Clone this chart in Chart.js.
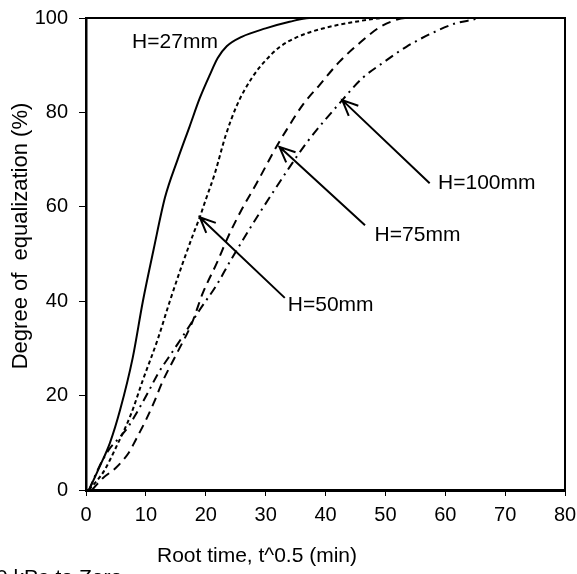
<!DOCTYPE html>
<html>
<head>
<meta charset="utf-8">
<script src="https://cdn.jsdelivr.net/npm/chart.js@4/dist/chart.umd.min.js"></script>
<style>
  html, body { margin: 0; padding: 0; background: #fff; }
  #wrap { width: 577px; height: 574px; }
</style>
</head>
<body>
<div id="wrap"><canvas id="chart"></canvas></div>
<script>
// valeurs (t^0.5 en min, degré en %)
const h27x = [0.5, 2.3, 4, 5.7, 7.8, 9.5, 11.3, 13.2, 15.3, 17.3, 19, 20.7, 22, 23.5, 26, 30, 34, 37.3, 80];
const h27y = [0, 5, 10, 17, 28, 40, 51, 62, 70, 77, 83, 88, 91.5, 94, 96, 97.8, 99.2, 100, 100];

const h50x = [0.5, 3, 5, 7.5, 9.5, 12, 14, 16, 18, 19, 20, 21.5, 23.3, 25.2, 27.8, 30, 32.3, 35, 39, 45, 50, 80];
const h50y = [0, 4, 9, 16, 23.3, 32, 40, 47.5, 54.5, 57.8, 61.5, 67, 75, 81.5, 87.5, 91, 93.8, 95.8, 97.6, 99.2, 100, 100];

const h75x = [1, 2.8, 5, 7.2, 8.3, 10, 11.3, 12.8, 15.2, 17.7, 19.5, 22, 23.5, 25.7, 28.5, 31.8, 33.5, 36.2, 39, 42.3, 45.7, 49, 51.8, 53.5, 80];
const h75y = [0, 2.5, 4.7, 8, 10.6, 14.8, 18.4, 23, 29, 35.4, 41.7, 48.5, 53, 58.7, 65, 72.7, 76.3, 81.6, 85.8, 90.7, 94.7, 98, 99.6, 100, 100];

const h100x = [0.5, 2.2, 3.8, 5.5, 7, 8.3, 9.2, 10.5, 12, 14.5, 16.8, 19, 21.8, 24, 26.5, 29, 31.5, 34, 36.8, 42.8, 46.2, 49.8, 53.5, 57.8, 61.8, 64.5, 66, 80];
const h100y = [0, 4.9, 8.5, 11, 13.3, 16, 18, 21, 24.6, 29.4, 33.8, 38.2, 43.4, 48.3, 53.6, 58.7, 63.6, 68.4, 73.5, 82.6, 87.3, 90.7, 93.9, 96.8, 98.9, 99.6, 100, 100];

const xTicks = [0, 10, 20, 30, 40, 50, 60, 70, 80];
const yTicks = [0, 20, 40, 60, 80, 100];

// étiquettes : texte, position du texte, queue et pointe de la flèche (unités des axes)
const labels = [
  { text: "H=27mm", at: [7.7, 94.9], tail: null, tip: null },
  { text: "H=50mm", at: [33.7, 39.2], tail: [33.2, 40.7], tip: [19, 57.8] },
  { text: "H=75mm", at: [48.2, 54.0], tail: [46.6, 56.1], tip: [32.3, 72.7] },
  { text: "H=100mm", at: [58.8, 65.0], tail: [57.4, 65.0], tip: [42.8, 82.6] }
];

const FONT = "'Liberation Sans', Arial, sans-serif";

function pts(xs, ys) {
  return xs.map((x, i) => ({ x: x, y: ys[i] }));
}

function serie(xs, ys, dash) {
  return {
    data: pts(xs, ys),
    borderColor: "#000",
    borderWidth: 2,
    borderDash: dash,
    pointRadius: 0,
    fill: false,
    showLine: true,
    cubicInterpolationMode: "monotone"
  };
}

// pas de marge automatique pour les étiquettes qui dépassent
function noPad(s) {
  s.paddingLeft = 0;
  s.paddingRight = 0;
  s.paddingTop = 0;
  s.paddingBottom = 0;
}

// cadre, titres, flèches
const decor = {
  id: "decor",
  afterDraw(chart) {
    const ctx = chart.ctx;
    const a = chart.chartArea;
    const sx = chart.scales.x, sy = chart.scales.y;
    ctx.save();
    ctx.strokeStyle = "#000";
    ctx.lineWidth = 2;
    ctx.beginPath();
    ctx.moveTo(a.left, a.top);
    ctx.lineTo(a.right, a.top);
    ctx.lineTo(a.right, a.bottom);
    ctx.stroke();

    ctx.fillStyle = "#000";
    ctx.font = "21px " + FONT;
    ctx.textBaseline = "middle";
    ctx.textAlign = "left";
    labels.forEach(l => {
      ctx.fillText(l.text, sx.getPixelForValue(l.at[0]), sy.getPixelForValue(l.at[1]));
      if (!l.tail) return;
      const x1 = sx.getPixelForValue(l.tail[0]), y1 = sy.getPixelForValue(l.tail[1]);
      const x2 = sx.getPixelForValue(l.tip[0]), y2 = sy.getPixelForValue(l.tip[1]);
      const ang = Math.atan2(y2 - y1, x2 - x1);
      const len = 17, spread = 0.42;
      ctx.lineWidth = 2;
      ctx.beginPath();
      ctx.moveTo(x1, y1);
      ctx.lineTo(x2, y2);
      ctx.moveTo(x2 - len * Math.cos(ang - spread), y2 - len * Math.sin(ang - spread));
      ctx.lineTo(x2, y2);
      ctx.lineTo(x2 - len * Math.cos(ang + spread), y2 - len * Math.sin(ang + spread));
      ctx.stroke();
    });

    ctx.textAlign = "center";
    ctx.fillText("Root time, t^0.5 (min)", 257, 556);
    ctx.textAlign = "left";
    ctx.textBaseline = "alphabetic";
    ctx.fillText("0 kPa to Zero", -4, 584);

    ctx.translate(21, 236);
    ctx.rotate(-Math.PI / 2);
    ctx.textAlign = "center";
    ctx.textBaseline = "middle";
    ctx.font = "22px " + FONT;
    ctx.fillText("Degree of  equalization (%)", 0, 0);
    ctx.restore();
  }
};

new Chart(document.getElementById("chart"), {
  type: "scatter",
  data: {
    datasets: [
      serie(h27x, h27y, []),
      serie(h50x, h50y, [4, 3]),
      serie(h75x, h75y, [9, 6]),
      serie(h100x, h100y, [9, 5, 2, 5])
    ]
  },
  options: {
    responsive: true,
    maintainAspectRatio: false,
    animation: false,
    layout: { autoPadding: false, padding: { top: 18, right: 12, left: 0, bottom: 0 } },
    plugins: {
      legend: { display: false },
      tooltip: { enabled: false }
    },
    scales: {
      x: {
        type: "linear",
        min: 0,
        max: 80,
        afterFit: s => { s.height = 84; noPad(s); },
        afterBuildTicks: s => { s.ticks = xTicks.map(v => ({ value: v })); },
        grid: { drawOnChartArea: false, drawTicks: true, tickLength: 6, color: "#000" },
        border: { display: true, color: "#000", width: 3 },
        ticks: { color: "#000", padding: 7, maxRotation: 0, font: { size: 20, family: FONT } }
      },
      y: {
        min: 0,
        max: 100,
        afterFit: s => { s.width = 86; noPad(s); },
        afterBuildTicks: s => { s.ticks = yTicks.map(v => ({ value: v })); },
        grid: { drawOnChartArea: false, drawTicks: true, tickLength: 7, color: "#000" },
        border: { display: true, color: "#000", width: 2.5 },
        ticks: { color: "#000", padding: 11, font: { size: 20, family: FONT } }
      }
    }
  },
  plugins: [decor]
});
</script>
</body>
</html>
